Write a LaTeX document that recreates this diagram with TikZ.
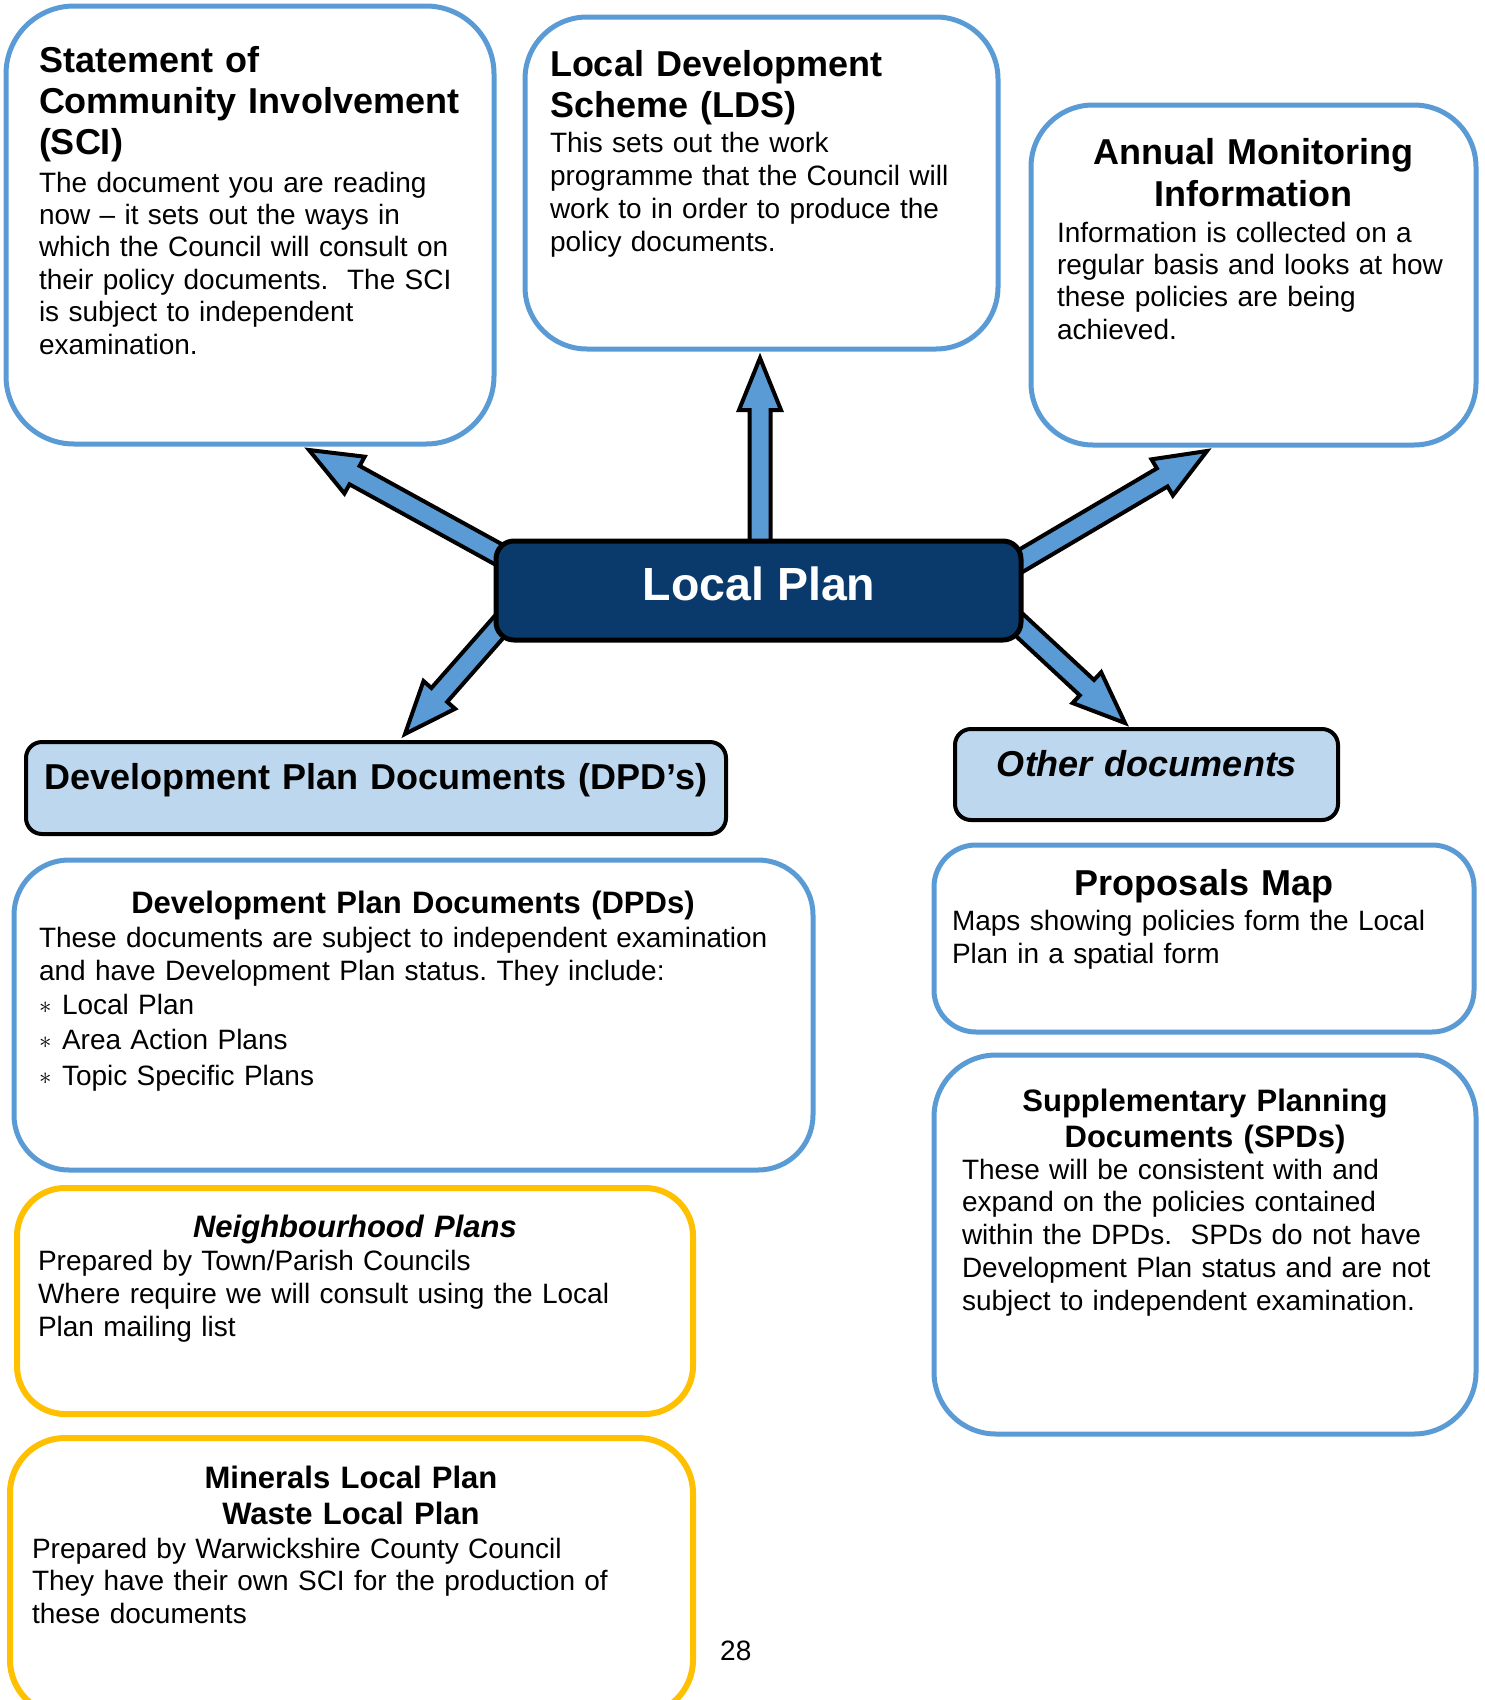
\documentclass[tikz,border=0pt]{standalone}
\usepackage{fontspec}
\setmainfont{Liberation Sans}
\usetikzlibrary{calc}
\frenchspacing

\definecolor{boxblue}{HTML}{5B9BD5}
\definecolor{lpnavy}{HTML}{0A3A6B}
\definecolor{headfill}{HTML}{BDD7EE}
\definecolor{gold}{HTML}{FFC000}

% a rounded document box given by its top-left and bottom-right corners
\newcommand\docbox[6]{%
  \node[#1, minimum width={#5-#3}, minimum height={#6-#4}] (#2) at (#3,#4) {};}

% a block arrow with a flat head, from #1 to the tip #2
\newcommand\blockarrow[2]{%
  \draw[blockarr]
    ($(#1)!10.5pt!90:(#2)$) --
    ($(#2)!52pt!(#1)!10.5pt!90:(#2)$) --
    ($(#2)!52pt!(#1)!21pt!90:(#2)$) --
    (#2) --
    ($(#2)!52pt!(#1)!21pt!-90:(#2)$) --
    ($(#2)!52pt!(#1)!10.5pt!-90:(#2)$) --
    ($(#1)!10.5pt!-90:(#2)$) -- cycle;}

\begin{document}
\begin{tikzpicture}[x=1pt, y=-1pt,
  docframe/.style={rectangle, rounded corners=#1, inner sep=0pt, outer sep=0pt, anchor=north west},
  bluebox/.style={docframe=#1, draw=boxblue, line width=5pt, fill=white},
  goldbox/.style={docframe=#1, draw=gold, line width=6pt, fill=white},
  headbox/.style={docframe=#1, draw=black, line width=4pt, fill=headfill},
  blockarr/.style={fill=boxblue, draw=black, line width=4pt, line join=miter},
  lpbox/.style={docframe=18pt, draw=black, line width=5pt, fill=lpnavy},
  titlefont/.style={font={\fontsize{36}{41}\selectfont\bfseries}},
  subtitlefont/.style={font={\fontsize{31}{#1}\selectfont\bfseries}},
  bodyfont/.style={font={\fontsize{28}{#1}\selectfont}},
  ltext/.style={inner sep=0pt, outer sep=0pt, text width=760pt, align=left, anchor=base west},
  ctext/.style={inner sep=0pt, outer sep=0pt, text width=760pt, align=center, anchor=base},
]
\clip (0,0) rectangle (1485,1700);
\fill[white] (0,0) rectangle (1485,1700);

% ---- boxes ----
\docbox{bluebox=68pt}{sci}{6}{6}{494}{444}
\docbox{bluebox=62pt}{lds}{525}{17}{998}{349}
\docbox{bluebox=62pt}{ami}{1031}{105}{1476}{445}
\docbox{headbox=16pt}{dpdhead}{26}{742}{726}{834}
\docbox{headbox=16pt}{otherhead}{955}{729}{1338}{820}
\docbox{bluebox=55pt}{dpd}{14}{860}{813}{1170}
\docbox{bluebox=42pt}{map}{934}{845}{1474}{1032}
\docbox{bluebox=62pt}{spd}{934}{1055}{1476}{1434}
\docbox{goldbox=48pt}{np}{17}{1188}{693}{1414}
\docbox{goldbox=55pt}{mlp}{10}{1438}{693}{1715}

% ---- arrows out of the Local Plan ----
\coordinate (upS) at (760,570);   \coordinate (upT) at (760,358);
\coordinate (ulS) at (536,575);   \coordinate (ulT) at (309,450);
\coordinate (urS) at (990,579);   \coordinate (urT) at (1207,451);
\coordinate (dlS) at (520,603);   \coordinate (dlT) at (405,734);
\coordinate (drS) at (1000,607);  \coordinate (drT) at (1125,723);
\blockarrow{upS}{upT}
\blockarrow{ulS}{ulT}
\blockarrow{urS}{urT}
\blockarrow{dlS}{dlT}
\blockarrow{drS}{drT}

% ---- central box ----
\docbox{lpbox}{lp}{496}{541}{1021}{640}
\node[inner sep=0pt, anchor=base, text=white, font={\fontsize{46.5}{52}\selectfont\bfseries}] (lptext) at (759,600) {Local Plan};

% ---- Statement of Community Involvement ----
\node[ltext, titlefont] (scititle) at (39,72) {Statement of\\Community Involvement\\(SCI)};
\node[ltext, bodyfont=32.4] (scibody) at (39,192)
  {The document you are reading\\now – it sets out the ways in\\which the Council will consult on\\their policy documents.~ The SCI\\is subject to independent\\examination.};

% ---- Local Development Scheme ----
\node[ltext, titlefont] (ldstitle) at (550,76) {Local Development\\Scheme (LDS)};
\node[ltext, bodyfont=33] (ldsbody) at (550,152)
  {This sets out the work\\programme that the Council will\\work to in order to produce the\\policy documents.};

% ---- Annual Monitoring Information ----
\node[ctext, font={\fontsize{36}{42}\selectfont\bfseries}] (amititle) at (1253,164) {Annual Monitoring\\Information};
\node[ltext, bodyfont=32.4] (amibody) at (1057,242)
  {Information is collected on a\\regular basis and looks at how\\these policies are being\\achieved.};

% ---- headings ----
\node[ctext, titlefont] (dpdheadtext) at (376,789) {Development Plan Documents (DPD’s)};
\node[ctext, font={\fontsize{36}{41}\selectfont\bfseries\itshape}] (otherheadtext) at (1147,776) {Other documents};

% ---- Development Plan Documents ----
\node[ctext, subtitlefont=36] (dpdtitle) at (413,913) {Development Plan Documents (DPDs)};
\node[ltext, bodyfont=33] (dpdbody) at (39,947)
  {These documents are subject to independent examination\\and have Development Plan status. They include:};
\node[ltext, bodyfont=35.5] (dpdlist) at (39,1014)
  {\makebox[23pt][l]{\raisebox{1pt}{$\ast$}}Local Plan\\\makebox[23pt][l]{\raisebox{1pt}{$\ast$}}Area Action Plans\\\makebox[23pt][l]{\raisebox{1pt}{$\ast$}}Topic Specific Plans};

% ---- Proposals Map ----
\node[ctext, titlefont] (maptitle) at (1204,895) {Proposals Map};
\node[ltext, bodyfont=33] (mapbody) at (952,930)
  {Maps showing policies form the Local\\Plan in a spatial form};

% ---- Supplementary Planning Documents ----
\node[ctext, subtitlefont=36] (spdtitle) at (1205,1111) {Supplementary Planning\\Documents (SPDs)};
\node[ltext, bodyfont=32.75] (spdbody) at (962,1179)
  {These will be consistent with and\\expand on the policies contained\\within the DPDs.~ SPDs do not have\\Development Plan status and are not\\subject to independent examination.};

% ---- Neighbourhood Plans ----
\node[ctext, font={\fontsize{31}{36}\selectfont\bfseries\itshape}] (nptitle) at (355,1237) {Neighbourhood Plans};
\node[ltext, bodyfont=33] (npbody) at (38,1270)
  {Prepared by Town/Parish Councils\\Where require we will consult using the Local\\Plan mailing list};

% ---- Minerals and Waste Local Plans ----
\node[ctext, subtitlefont=36] (mlptitle) at (351,1488) {Minerals Local Plan\\Waste Local Plan};
\node[ltext, bodyfont=32.5] (mlpbody) at (32,1558)
  {Prepared by Warwickshire County Council\\They have their own SCI for the production of\\these documents};

% ---- page number ----
\node[inner sep=0pt, anchor=base west, font={\fontsize{28}{32}\selectfont}] (pageno) at (720,1660) {28};
\end{tikzpicture}
\end{document}
